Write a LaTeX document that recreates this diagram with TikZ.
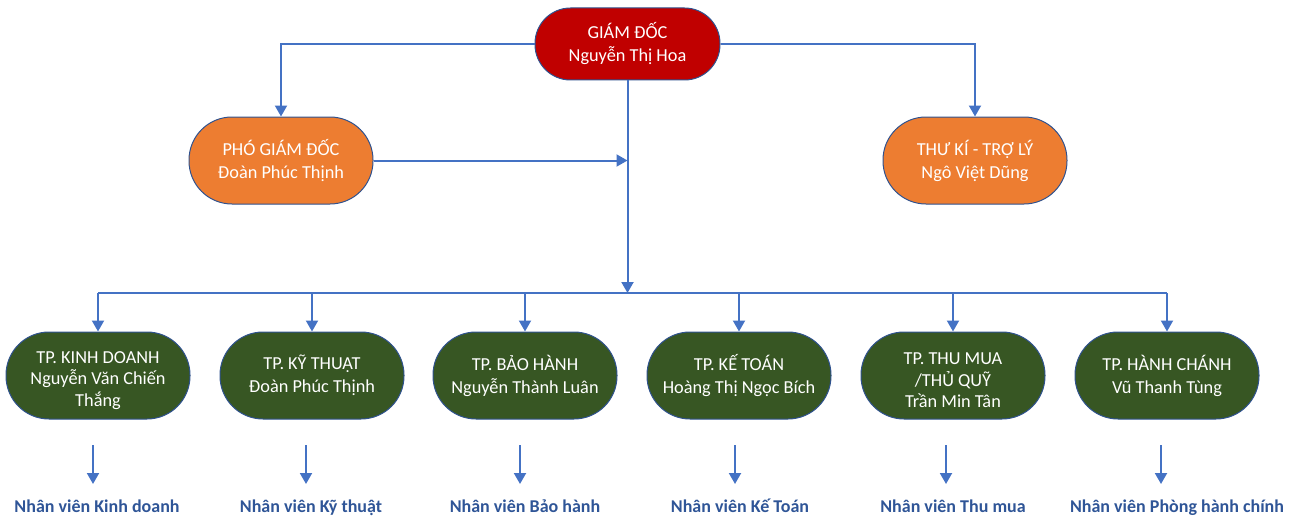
\documentclass[tikz,border=0pt]{standalone}
\usepackage{fontspec}
\setmainfont{Carlito}
\usetikzlibrary{arrows.meta}
\definecolor{lineblue}{HTML}{4472C4}
\definecolor{edgeblue}{HTML}{2F528F}
\definecolor{gdred}{HTML}{C00000}
\definecolor{pgdorange}{HTML}{ED7D31}
\definecolor{tpgreen}{HTML}{375623}
\definecolor{nvblue}{HTML}{2F5597}
\newcommand{\toppad}{\rule{0pt}{22pt}}
\tikzset{
  box/.style={draw=edgeblue, line width=1pt, text=white, align=center,
    font=\fontsize{18.3}{23}\selectfont, inner sep=0pt},
  gdbox/.style={box, fill=gdred, minimum width=185pt, minimum height=72pt, rounded corners=35.5pt},
  midbox/.style={box, fill=pgdorange, minimum width=184pt, minimum height=87pt, rounded corners=43pt},
  tpbox/.style={box, fill=tpgreen, minimum width=184pt, minimum height=87pt, rounded corners=43pt},
  threeline/.style={font=\fontsize{18.3}{21.5}\selectfont},
  nvlabel/.style={text=nvblue, font=\fontsize{18}{20}\selectfont\bfseries, inner sep=0pt, anchor=base},
  conn/.style={draw=lineblue, line width=2pt},
  arr/.style={conn, -{Triangle[width=12pt,length=11pt]}},
}
\begin{document}
\begin{tikzpicture}[x=1pt,y=-1pt]
\useasboundingbox (0,0) rectangle (1299,519);
\node[gdbox] (gd) at (627.5,44) {GIÁM ĐỐC\\Nguyễn Thị Hoa};
\node[midbox] (pgd) at (281,160.5) {PHÓ GIÁM ĐỐC\\Đoàn Phúc Thịnh};
\node[midbox] (tk) at (975,160.5) {THƯ KÍ - TRỢ LÝ\\Ngô Việt Dũng};

\node[tpbox, threeline] (t1) at (98,375.5) {\toppad TP. KINH DOANH\\Nguyễn Văn Chiến\\Thắng};
\node[tpbox] (t2) at (312,375.5) {TP. KỸ THUẬT\\Đoàn Phúc Thịnh};
\node[tpbox] (t3) at (525,375.5) {TP. BẢO HÀNH\\Nguyễn Thành Luân};
\node[tpbox] (t4) at (739,375.5) {TP. KẾ TOÁN\\Hoàng Thị Ngọc Bích};
\node[tpbox, threeline] (t5) at (953,375.5) {\toppad TP. THU MUA\\/THỦ QUỸ\\Trần Min Tân};
\node[tpbox] (t6) at (1167,375.5) {TP. HÀNH CHÁNH\\Vũ Thanh Tùng};

\node[nvlabel] (n1) at (97,512) {Nhân viên Kinh doanh};
\node[nvlabel] (n2) at (311,512) {Nhân viên Kỹ thuật};
\node[nvlabel] (n3) at (525,512) {Nhân viên Bảo hành};
\node[nvlabel] (n4) at (740,512) {Nhân viên Kế Toán};
\node[nvlabel] (n5) at (953,512) {Nhân viên Thu mua};
\node[nvlabel] (n6) at (1177,512) {Nhân viên Phòng hành chính};

% top level connectors
\draw[arr] (gd.west) -| (pgd.north);
\draw[arr] (gd.east) -| (tk.north);
\coordinate (bar) at (627.5,293);
\draw[arr] (gd.south) -- (bar);
\draw[arr] (pgd.east) -- (pgd.east -| bar);

% bar to departments
\draw[conn] (t1.north |- bar) -- (t6.north |- bar);
\foreach \t in {t1,t2,t3,t4,t5,t6}{
  \draw[arr] (\t.north |- bar) -- (\t.north);
}

% short arrows to staff labels
\foreach \i/\x in {1/93,2/306,3/520,4/735,5/946,6/1161}{
  \coordinate (s\i) at (\x,445);
  \draw[arr] (s\i) -- (\x,484);
}
\end{tikzpicture}
\end{document}
